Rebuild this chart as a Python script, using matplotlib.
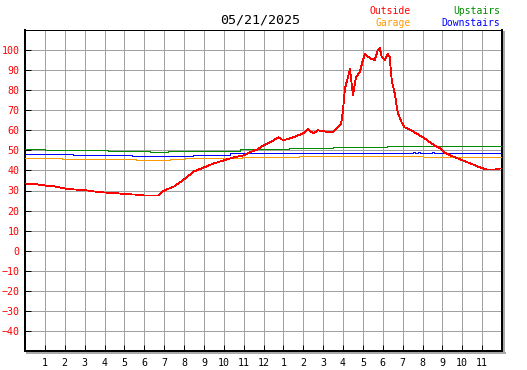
import matplotlib.pyplot as plt
from matplotlib.lines import Line2D

plt.rcParams['font.family'] = 'DejaVu Sans Mono'

# hours since midnight -> temperature (F)
outside_h = [0, 0.5, 1, 1.5, 2, 2.5, 3, 3.5, 4, 4.5, 5, 5.5, 6, 6.7, 7, 7.5, 8, 8.5,
             9, 9.5, 10, 10.5, 11, 11.3, 11.7, 12, 12.5, 12.75, 13, 13.5, 14, 14.25,
             14.5, 14.75, 15, 15.5, 15.75, 15.9, 16, 16.1, 16.25, 16.35, 16.5, 16.65,
             16.85, 17, 17.1, 17.35, 17.6, 17.75, 17.85, 17.95, 18.1, 18.25, 18.35,
             18.45, 18.6, 18.75, 18.95, 19.1, 19.35, 19.6, 19.85, 20.1, 20.38, 20.6,
             20.88, 21.1, 21.4, 21.9, 22.4, 22.9, 23.24, 23.65, 23.9, 24]
outside_t = [33.5, 33.2, 32.5, 32, 31, 30.5, 30.2, 29.5, 29, 28.8, 28.2, 28, 27.5, 27.5,
             30, 32, 35.5, 39.5, 41.5, 43.5, 45, 46.5, 47.5, 49, 50.5, 52.5, 55, 56.5,
             55, 56.5, 58.5, 60.5, 58.5, 60, 59.5, 59, 61.5, 63, 70, 81, 86.5, 90.5,
             77.5, 86.5, 89, 95, 98, 96, 95, 100, 101, 96.5, 95, 98, 96.5, 85, 78.5,
             69, 64, 61.5, 60.5, 59, 57.5, 56, 54, 52.5, 51, 49, 47.5, 45.5, 43.5,
             41.5, 40.5, 40.5, 41, 41]

upstairs_h = [0, 1, 4.2, 6.3, 7.2, 10.8, 13.3, 15.5, 18.2, 24]
upstairs_t = [50.5, 50, 49.5, 49, 49.8, 50.5, 51, 51.5, 52, 52]

downstairs_h = [0, 2.4, 5.4, 8.45, 10.3, 19.5, 19.6, 19.75, 19.85, 20.5, 20.6, 24]
downstairs_t = [48, 47.5, 47, 47.8, 48.5, 49, 48.5, 49, 48.5, 49, 48.5, 48.5]

garage_h = [0, 1.85, 5.6, 7.3, 8.05, 10.9, 13.6, 13.8, 14.0, 20.0, 20.2, 24]
garage_t = [46, 45.5, 45, 45.5, 46, 46.5, 46.5, 47, 47, 46.5, 46.5, 46.5]

hour_ticks = list(range(1, 24))
hour_labels = [str(h) for h in range(1, 13)] + [str(h) for h in range(1, 12)]
temp_ticks = list(range(-40, 101, 10))

px = 0.72  # one pixel at 100 dpi, in points

fig = plt.figure(figsize=(5.27, 3.70), dpi=100)
ax = fig.add_axes([25 / 527, 1 - 351 / 370, 477 / 527, 321 / 370])

for t in range(-40, 111, 10):
    ax.axhline(t, color='#a0a0a0', lw=px, antialiased=False, zorder=1)
for h in range(0, 25):
    ax.axvline(h, color='#a0a0a0', lw=px, antialiased=False, zorder=1)

ax.plot(upstairs_h, upstairs_t, color='#008c00', lw=px, drawstyle='steps-post',
        antialiased=False, zorder=3)
ax.plot(downstairs_h, downstairs_t, color='#0000ff', lw=px, drawstyle='steps-post',
        antialiased=False, zorder=3)
ax.plot(garage_h, garage_t, color='#ff9900', lw=px, drawstyle='steps-post',
        antialiased=False, zorder=3)
ax.plot(outside_h, outside_t, color='#ff0000', lw=0.6, antialiased=False, zorder=4)

ax.set_xlim(0, 24)
ax.set_ylim(-50, 110)
ax.set_xticks(hour_ticks)
ax.set_xticklabels(hour_labels)
ax.set_yticks(temp_ticks)
ax.tick_params(axis='both', direction='in', length=4, width=px, color='black',
               labelsize=7.2)
ax.tick_params(axis='y', labelcolor='#ff0000', pad=4)
ax.tick_params(axis='x', labelcolor='black', pad=5)

for side in ['left', 'bottom', 'right']:
    ax.spines[side].set_linewidth(2 * px)
ax.spines['top'].set_linewidth(px)

# drop shadow right and below the frame
shadow = '#a8a8a8'
fig.add_artist(Line2D([504 / 527, 504 / 527], [1 - 32 / 370, 1 - 353 / 370],
                      color=shadow, lw=2 * px, antialiased=False))
fig.add_artist(Line2D([27 / 527, 505 / 527], [1 - 353 / 370, 1 - 353 / 370],
                      color=shadow, lw=2 * px, antialiased=False))

fig.text(260 / 527, 1 - 20 / 370, '05/21/2025', ha='center', va='center', fontsize=9.6)
fig.text(411 / 527, 1 - 11.5 / 370, 'Outside', ha='right', va='center', fontsize=7,
         color='#ff0000')
fig.text(411 / 527, 1 - 23.5 / 370, 'Garage', ha='right', va='center', fontsize=7,
         color='#ff9900')
fig.text(500 / 527, 1 - 11.5 / 370, 'Upstairs', ha='right', va='center', fontsize=7,
         color='#008c00')
fig.text(500 / 527, 1 - 23.5 / 370, 'Downstairs', ha='right', va='center', fontsize=7,
         color='#0000ff')

fig.savefig('out.png', dpi=100)
